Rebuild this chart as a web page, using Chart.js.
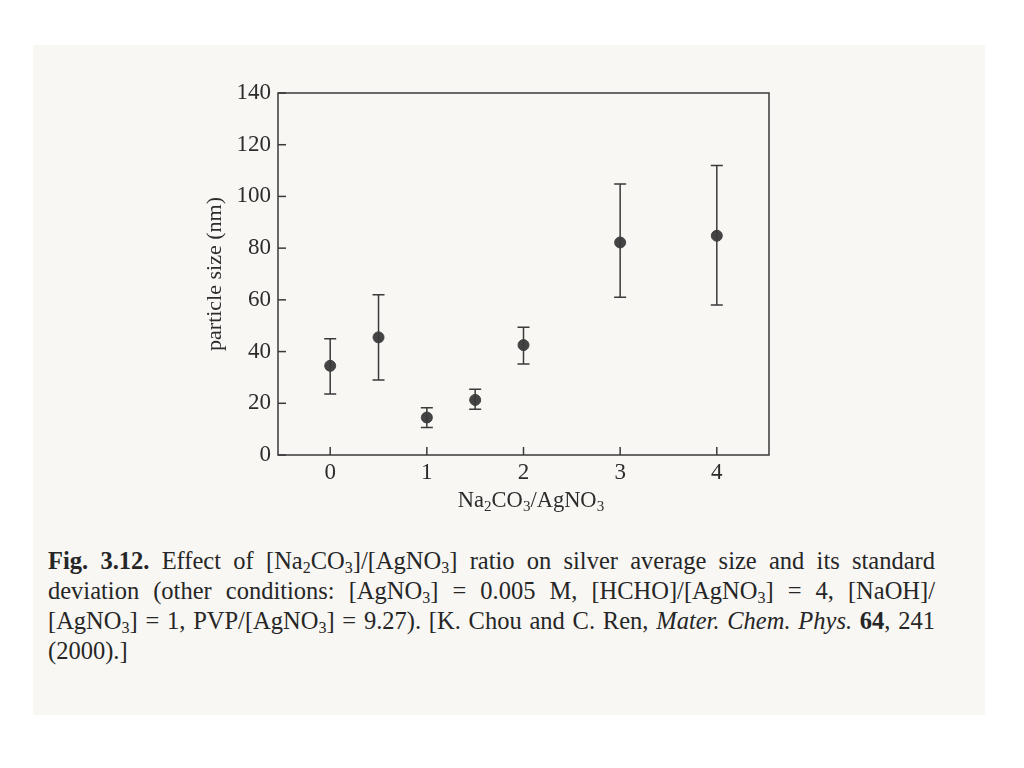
<!DOCTYPE html>
<html>
<head>
<meta charset="utf-8">
<script src="https://cdn.jsdelivr.net/npm/chart.js@4.4.0/dist/chart.umd.min.js"></script>
<style>
  html, body { margin: 0; padding: 0; background: #ffffff; }
  body { width: 1024px; height: 768px; position: relative; overflow: hidden; }
  #page { position: absolute; left: 33px; top: 45px; width: 952px; height: 670px; background: #f8f7f4; }
  #wrap { position: absolute; left: 0; top: 0; width: 1024px; height: 520px; }
  #xtitle { position: absolute; left: 381px; width: 300px; top: 487px; text-align: center;
            font-family: "Liberation Serif", serif; font-size: 22.5px; color: #2c2c2c; }
  #xtitle sub { font-size: 15px; vertical-align: -4px; line-height: 0; }
  #caption { position: absolute; left: 48px; top: 546px; width: 887px;
             font-family: "Liberation Serif", serif; font-size: 24.5px; line-height: 30px; color: #262626; }
  #caption .ln { display: block; text-align: justify; text-align-last: justify; white-space: nowrap; }
  #caption .last { display: block; }
  #caption sub { font-size: 16px; vertical-align: -4px; line-height: 0; }
</style>
</head>
<body>
<div id="page"></div>
<div id="wrap"><canvas id="chart" width="1024" height="520"></canvas></div>
<div id="xtitle">Na<sub>2</sub>CO<sub>3</sub>/AgNO<sub>3</sub></div>
<div id="caption">
  <span class="ln"><b>Fig. 3.12.</b> Effect of [Na<sub>2</sub>CO<sub>3</sub>]/[AgNO<sub>3</sub>] ratio on silver average size and its standard</span>
  <span class="ln">deviation (other conditions: [AgNO<sub>3</sub>] = 0.005 M, [HCHO]/[AgNO<sub>3</sub>] = 4, [NaOH]/</span>
  <span class="ln">[AgNO<sub>3</sub>] = 1, PVP/[AgNO<sub>3</sub>] = 9.27). [K. Chou and C. Ren, <i>Mater. Chem. Phys.</i> <b>64</b>, 241</span>
  <span class="last">(2000).]</span>
</div>
<script>
// Données
const ratios = [0, 0.5, 1, 1.5, 2, 3, 4];
const tailles = [34.5, 45.5, 14.5, 21.3, 42.5, 82.2, 84.8];
const hautBarre = [45, 62, 18.3, 25.4, 49.4, 104.8, 112];
const basBarre = [23.6, 29, 10.6, 17.7, 35.2, 61, 58];
const ticksX = [0, 1, 2, 3, 4];
const ticksY = [0, 20, 40, 60, 80, 100, 120, 140];

const encre = '#3a3a3a';

// Barres d'erreur + petits traits intérieurs des axes
const barresErreur = {
    id: 'barresErreur',
    afterDatasetsDraw(chart) {
        const ctx = chart.ctx;
        const sx = chart.scales.x, sy = chart.scales.y;
        ctx.save();
        ctx.strokeStyle = encre;
        ctx.lineWidth = 1.5;
        ratios.forEach(function (r, i) {
            const px = sx.getPixelForValue(r);
            const top = sy.getPixelForValue(hautBarre[i]);
            const bot = sy.getPixelForValue(basBarre[i]);
            ctx.beginPath();
            ctx.moveTo(px, top); ctx.lineTo(px, bot);
            ctx.moveTo(px - 6, top); ctx.lineTo(px + 6, top);
            ctx.moveTo(px - 6, bot); ctx.lineTo(px + 6, bot);
            ctx.stroke();
        });
        // ticks vers l'intérieur
        const a = chart.chartArea;
        ticksY.forEach(function (v) {
            const py = sy.getPixelForValue(v);
            ctx.beginPath();
            ctx.moveTo(a.left, py); ctx.lineTo(a.left + 8, py);
            ctx.stroke();
        });
        ticksX.forEach(function (v) {
            const px = sx.getPixelForValue(v);
            ctx.beginPath();
            ctx.moveTo(px, a.bottom); ctx.lineTo(px, a.bottom - 8);
            ctx.stroke();
        });
        // cadre
        ctx.lineWidth = 1.5;
        ctx.strokeRect(a.left, a.top, a.right - a.left, a.bottom - a.top);
        ctx.restore();
    }
};

const ctx = document.getElementById('chart').getContext('2d');
const monGraphique = new Chart(ctx, {
    type: 'scatter',
    data: {
        datasets: [{
            label: 'particle size',
            data: ratios.map(function (r, i) { return { x: r, y: tailles[i] }; }),
            backgroundColor: '#444444',
            borderColor: '#444444',
            pointRadius: 5.5,
            pointHoverRadius: 5.5
        }]
    },
    options: {
        responsive: false,
        animation: false,
        layout: { padding: { left: 200, right: 255, top: 93, bottom: 0 } },
        plugins: { legend: { display: false }, tooltip: { enabled: false } },
        scales: {
            x: {
                type: 'linear',
                min: -0.54,
                max: 4.54,
                afterBuildTicks: function (scale) { scale.ticks = ticksX.map(function (v) { return { value: v }; }); },
                grid: { display: false, drawTicks: false },
                border: { display: false },
                ticks: { color: '#2c2c2c', padding: 4, font: { family: 'Liberation Serif', size: 23 } },
                afterFit: function (scale) { scale.height = 65; }
            },
            y: {
                min: 0,
                max: 140,
                afterBuildTicks: function (scale) { scale.ticks = ticksY.map(function (v) { return { value: v }; }); },
                grid: { display: false, drawTicks: false },
                border: { display: false },
                ticks: { color: '#2c2c2c', padding: 7, font: { family: 'Liberation Serif', size: 23 } },
                title: { display: true, text: 'particle size (nm)', color: '#2c2c2c', padding: 2,
                         font: { family: 'Liberation Serif', size: 22 } },
                afterFit: function (scale) { scale.width = 78; }
            }
        }
    },
    plugins: [barresErreur]
});
</script>
</body>
</html>
